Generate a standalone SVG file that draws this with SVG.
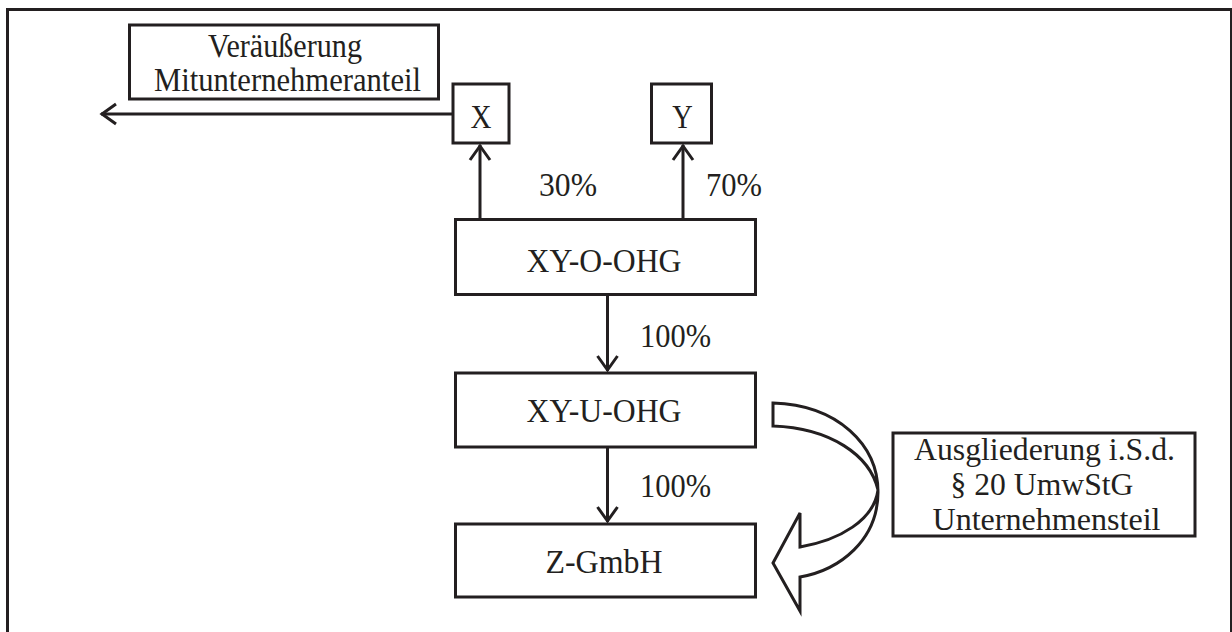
<svg xmlns="http://www.w3.org/2000/svg" width="1232" height="632" viewBox="0 0 1232 632">
<style>
.box{fill:#fff;stroke:#231f20;stroke-width:3}
.t{font-family:"Liberation Serif","Times New Roman",serif;font-size:34px;fill:#231f20}
.s{font-size:31.5px}
.c{text-anchor:middle}
.ln{fill:none;stroke:#231f20;stroke-width:3}
</style>
<defs>
<marker id="arr" markerUnits="userSpaceOnUse" markerWidth="30" markerHeight="30" viewBox="-20 -15 30 30" refX="0" refY="0" orient="auto" overflow="visible">
<path d="M-15,-10 L-1,0 L-15,10" fill="none" stroke="#231f20" stroke-width="3"/>
</marker>
</defs>
<rect x="0" y="0" width="1232" height="632" fill="#fff"/>
<rect x="7.5" y="9.5" width="1224" height="700" fill="none" stroke="#231f20" stroke-width="3"/>
<g id="connectors">
<line class="ln" x1="480" y1="219" x2="480" y2="145" marker-end="url(#arr)"/>
<line class="ln" x1="683" y1="219" x2="683" y2="145" marker-end="url(#arr)"/>
<line class="ln" x1="452" y1="114" x2="101" y2="114" marker-end="url(#arr)"/>
<line class="ln" x1="607.5" y1="296" x2="607.5" y2="371" marker-end="url(#arr)"/>
<line class="ln" x1="607.5" y1="448" x2="607.5" y2="522" marker-end="url(#arr)"/>
<path id="curved-arrow" class="box" stroke-linejoin="miter" d="M773,403 C838,405 878,445 878,492 C878,540 840,570 800,577 L800,611 L773,563 L800,513 L800,547 C840,540 874,520 878,490 C870,455 830,428 773,426 Z"/>
</g>
<g id="label-30"><text class="t" x="539" y="196" textLength="58" lengthAdjust="spacingAndGlyphs">30%</text></g>
<g id="label-70"><text class="t" x="706" y="196" textLength="56" lengthAdjust="spacingAndGlyphs">70%</text></g>
<g id="label-100a"><text class="t" x="640" y="347" textLength="71" lengthAdjust="spacingAndGlyphs">100%</text></g>
<g id="label-100b"><text class="t" x="640" y="497" textLength="71" lengthAdjust="spacingAndGlyphs">100%</text></g>
<g id="node-veraeusserung">
<rect class="box" x="129.5" y="25" width="309" height="74"/>
<text class="t c" x="285" y="57" textLength="154" lengthAdjust="spacingAndGlyphs">Veräußerung</text>
<text class="t c" x="287.5" y="91" textLength="267" lengthAdjust="spacingAndGlyphs">Mitunternehmeranteil</text>
</g>
<g id="node-x">
<rect class="box" x="453" y="84" width="56" height="59"/>
<text class="t c" x="481" y="128" textLength="21" lengthAdjust="spacingAndGlyphs">X</text>
</g>
<g id="node-y">
<rect class="box" x="651.5" y="84" width="60" height="59"/>
<text class="t c" x="682.5" y="128" textLength="20.5" lengthAdjust="spacingAndGlyphs">Y</text>
</g>
<g id="node-xy-o-ohg">
<rect class="box" x="455.5" y="219.5" width="300" height="75"/>
<text class="t c" x="604" y="272" textLength="155" lengthAdjust="spacingAndGlyphs">XY-O-OHG</text>
</g>
<g id="node-xy-u-ohg">
<rect class="box" x="455.5" y="373" width="300" height="74"/>
<text class="t c" x="604" y="422" textLength="155" lengthAdjust="spacingAndGlyphs">XY-U-OHG</text>
</g>
<g id="node-z-gmbh">
<rect class="box" x="455.5" y="524" width="300" height="73"/>
<text class="t c" x="604" y="573" textLength="117" lengthAdjust="spacingAndGlyphs">Z-GmbH</text>
</g>
<g id="node-ausgliederung">
<rect class="box" x="893" y="433" width="302" height="103"/>
<text class="t s c" x="1044.5" y="460" textLength="261" lengthAdjust="spacingAndGlyphs">Ausgliederung i.S.d.</text>
<text class="t s c" x="1042" y="495" textLength="183" lengthAdjust="spacingAndGlyphs">§ 20 UmwStG</text>
<text class="t s c" x="1046.5" y="530" textLength="228" lengthAdjust="spacingAndGlyphs">Unternehmensteil</text>
</g>
</svg>
